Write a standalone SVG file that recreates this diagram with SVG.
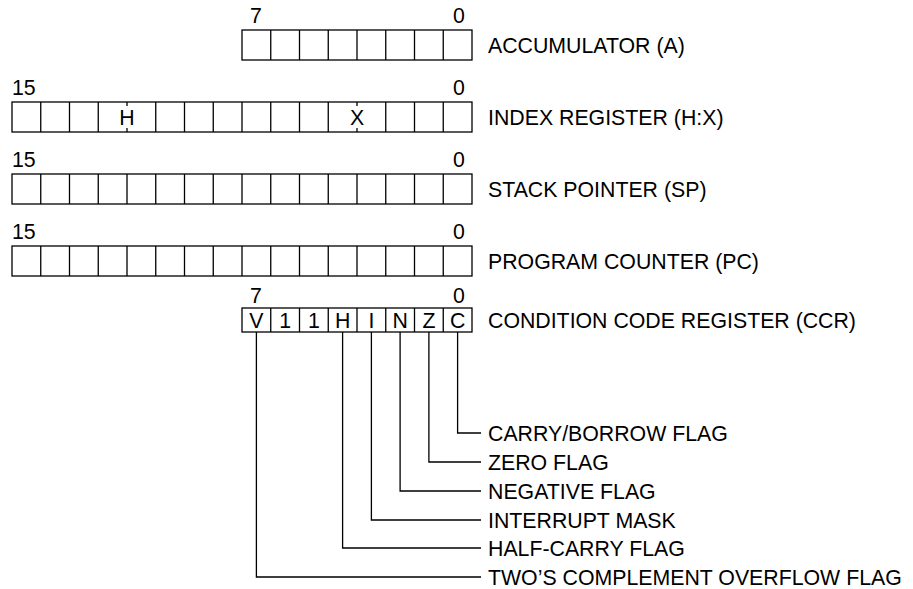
<svg xmlns="http://www.w3.org/2000/svg" width="913" height="589" viewBox="0 0 913 589">
<style>
text{font-family:"Liberation Sans",Arial,sans-serif;font-size:21.3px;fill:#000}
.box{fill:#fff;stroke:#000;stroke-width:1.3}
.div{stroke:#000;stroke-width:1.3}
.tick{stroke:#000;stroke-width:1.3}
.con{fill:none;stroke:#000;stroke-width:1.3}
</style>
<rect width="913" height="589" fill="#fff"/>
<g id="acc">
<text x="250" y="23">7</text><text x="453" y="23">0</text>
<rect class="box" x="242" y="30" width="230" height="30"/>
<path class="div" d="M270.75,30V60M299.5,30V60M328.25,30V60M357,30V60M385.75,30V60M414.5,30V60M443.25,30V60"/>
<text x="488" y="53">ACCUMULATOR (A)</text>
</g>
<g id="hx">
<text x="12" y="95">15</text><text x="453" y="95">0</text>
<rect class="box" x="12" y="102" width="460" height="30"/>
<path class="div" d="M40.75,102V132M69.5,102V132M98.25,102V132M155.75,102V132M184.5,102V132M213.25,102V132M242,102V132M270.75,102V132M299.5,102V132M328.25,102V132M385.75,102V132M414.5,102V132M443.25,102V132"/>
<path class="tick" d="M127,102V106M127,128V132M357,102V106M357,128V132"/>
<text x="127" y="125" text-anchor="middle">H</text>
<text x="357" y="125" text-anchor="middle">X</text>
<text x="488" y="125">INDEX REGISTER (H:X)</text>
</g>
<g id="sp">
<text x="12" y="167">15</text><text x="453" y="167">0</text>
<rect class="box" x="12" y="174" width="460" height="30"/>
<path class="div" d="M40.75,174V204M69.5,174V204M98.25,174V204M127,174V204M155.75,174V204M184.5,174V204M213.25,174V204M242,174V204M270.75,174V204M299.5,174V204M328.25,174V204M357,174V204M385.75,174V204M414.5,174V204M443.25,174V204"/>
<text x="488" y="197">STACK POINTER (SP)</text>
</g>
<g id="pc">
<text x="12" y="239">15</text><text x="453" y="239">0</text>
<rect class="box" x="12" y="246" width="460" height="30"/>
<path class="div" d="M40.75,246V276M69.5,246V276M98.25,246V276M127,246V276M155.75,246V276M184.5,246V276M213.25,246V276M242,246V276M270.75,246V276M299.5,246V276M328.25,246V276M357,246V276M385.75,246V276M414.5,246V276M443.25,246V276"/>
<text x="488" y="269">PROGRAM COUNTER (PC)</text>
</g>
<g id="ccr">
<text x="250" y="303">7</text><text x="453" y="303">0</text>
<rect class="box" x="242" y="308" width="230" height="24"/>
<path class="div" d="M270.75,308V332M299.5,308V332M328.25,308V332M357,308V332M385.75,308V332M414.5,308V332M443.25,308V332"/>
<g text-anchor="middle">
<text x="256.4" y="328">V</text><text x="285.1" y="328">1</text><text x="313.9" y="328">1</text><text x="342.6" y="328">H</text><text x="371.4" y="328">I</text><text x="400.1" y="328">N</text><text x="428.9" y="328">Z</text><text x="457.6" y="328">C</text>
</g>
<text x="488" y="328">CONDITION CODE REGISTER (CCR)</text>
</g>
<g id="connectors">
<path class="con" d="M457.6,332V433H481"/>
<path class="con" d="M428.9,332V462H481"/>
<path class="con" d="M400.1,332V491H481"/>
<path class="con" d="M371.4,332V520H481"/>
<path class="con" d="M342.6,332V548H481"/>
<path class="con" d="M256.4,332V577H481"/>
</g>
<g id="flags">
<text x="488" y="441">CARRY/BORROW FLAG</text>
<text x="488" y="470">ZERO FLAG</text>
<text x="488" y="499">NEGATIVE FLAG</text>
<text x="488" y="528">INTERRUPT MASK</text>
<text x="488" y="556">HALF-CARRY FLAG</text>
<text x="488" y="585">TWO’S COMPLEMENT OVERFLOW FLAG</text>
</g>
</svg>
